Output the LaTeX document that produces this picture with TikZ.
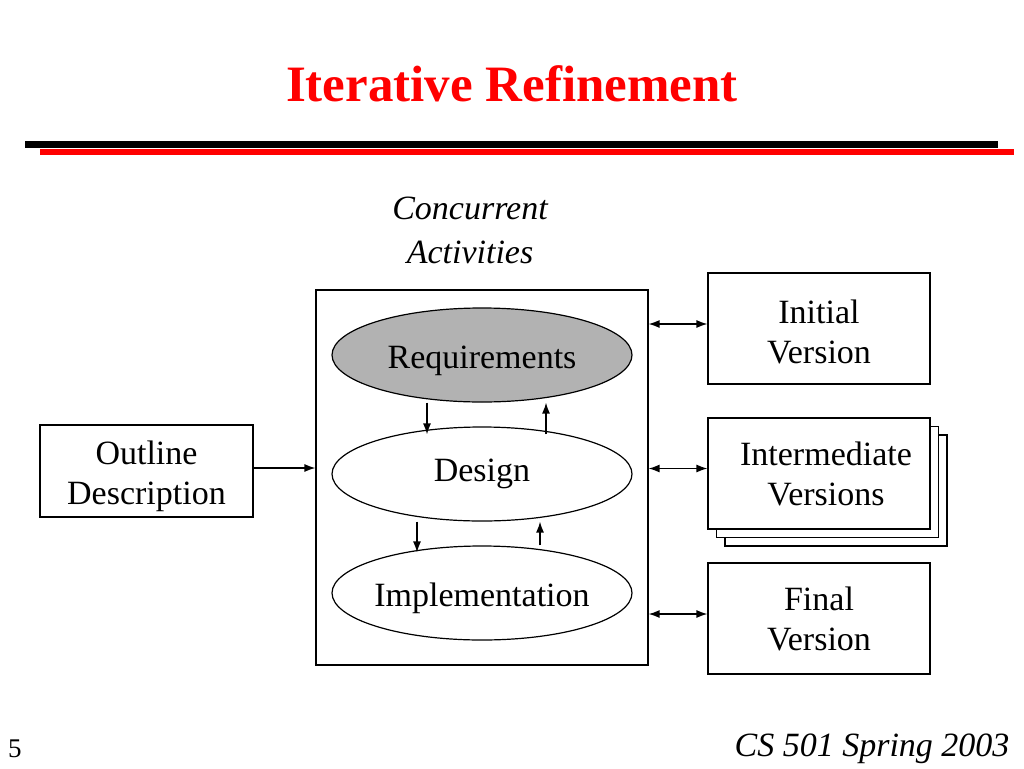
\documentclass[tikz,border=0pt]{standalone}
\usepackage{fontspec}
\setmainfont{Liberation Serif}
\usetikzlibrary{shapes.geometric,arrows.meta}
\tikzset{
	box/.style={draw, line width=1.2pt, fill=white, minimum width=222, minimum height=111, align=center, font=\fontsize{34}{40}\selectfont, inner sep=0},
	activity/.style={draw, ellipse, line width=1.2pt, minimum width=300, minimum height=94, inner ysep=0, inner xsep=-8pt, font=\fontsize{34}{40}\selectfont},
	link/.style={line width=1.3pt, -{Latex[length=11pt,width=8pt]}},
	twoway/.style={line width=1.3pt, {Latex[length=11pt,width=8pt]}-{Latex[length=11pt,width=8pt]}}
}
\newcommand{\lift}[1]{\rule{0pt}{#1}}
\begin{document}
\begin{tikzpicture}[x=1pt, y=-1pt]
			%%%%% START %%%%%
			\useasboundingbox (0, 0) rectangle (1024, 768);
			
			\node[anchor=base, text=red, font=\fontsize{51}{60}\selectfont\bfseries] (title) at (512, 101) {Iterative Refinement};
			\fill[black] (25, 141) rectangle (998, 148);
			\fill[red] (40, 149) rectangle (1014, 155);
			
			\node[anchor=base, font=\fontsize{34}{40}\selectfont\itshape] (conc) at (470, 219) {Concurrent};
			\node[anchor=base, font=\fontsize{34}{40}\selectfont\itshape] (act) at (470, 263) {Activities};
			
			\node[draw, line width=1.2pt, minimum width=332, minimum height=375, inner sep=0] (main) at (482, 477.5) {};
			\node[activity, fill=black!30] (req) at (482, 355) {\lift{35pt}Requirements};
			\node[activity] (design) at (482, 474) {Design};
			\node[activity] (impl) at (482, 593) {\lift{35pt}Implementation};
			
			\draw[link] ([xshift=-55]req.south) -- ([xshift=-55, yshift=-8]design.north);
			\draw[link] ([xshift=64, yshift=-8]design.north) -- ([xshift=64]req.south);
			\draw[link] ([xshift=-65]design.south) -- ([xshift=-65, yshift=-7]impl.north);
			\draw[link] ([xshift=58]impl.north) -- ([xshift=58]design.south);
			
			\node[box, minimum width=213, minimum height=92] (outline) at (146.5, 471) {\lift{35pt}Outline\\Description};
			\draw[link] ([yshift=3pt]outline.east) -- ([yshift=3pt]outline.east -| main.west);
			
			\node[box] (init) at (819, 328.5) {\lift{31pt}Initial\\Version};
			\node[box] (inter3) at (836, 490.5) {};
			\node[box] (inter2) at (827.5, 482) {};
			\node[box] (inter) at (819, 473.5) {\hspace{14pt}Intermediate\\\hspace{14pt}Versions};
			\node[box] (final) at (819, 618.5) {Final\\Version};
			
			\draw[twoway] ([yshift=4.5pt]init.west -| main.east) -- ([yshift=4.5pt]init.west);
			\draw[twoway] ([yshift=5pt]inter.west -| main.east) -- ([yshift=5pt]inter.west);
			\draw[twoway] ([yshift=4.5pt]final.west -| main.east) -- ([yshift=4.5pt]final.west);
			
			\node[anchor=base, font=\fontsize{27}{32}\selectfont] (page) at (15, 757) {5};
			\node[anchor=base east, font=\fontsize{34}{40}\selectfont\itshape] (course) at (1013, 756) {CS 501 Spring 2003};
			%%%%% END %%%%%
\end{tikzpicture}
\end{document}
